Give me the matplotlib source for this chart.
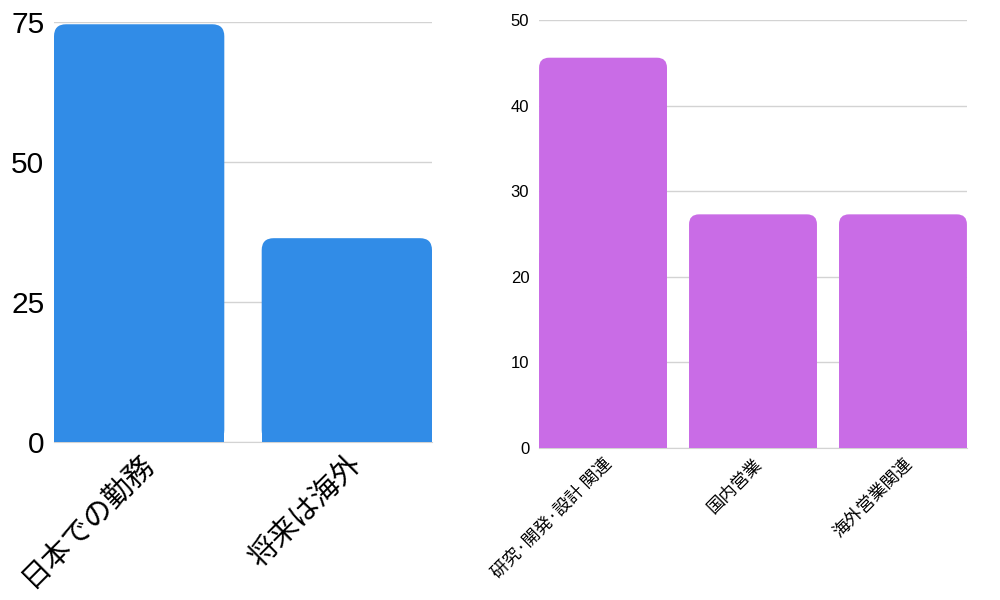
import matplotlib
matplotlib.use("Agg")
import matplotlib.pyplot as plt
from matplotlib.patches import FancyBboxPatch, Rectangle

plt.rcParams['font.family'] = ['Liberation Sans', 'Noto Sans CJK JP', 'DejaVu Sans']

# data
left_cats = ['日本での勤務', '将来は海外']
left_vals = [74.6, 36.4]
left_ticks = [0, 25, 50, 75]

right_cats = ['研究·開発·設計 関連', '国内営業', '海外営業関連']
right_vals = [45.6, 27.3, 27.3]
right_ticks = [0, 10, 20, 30, 40, 50]

BLUE = '#318ce7'
PURPLE = '#c96ce6'
GRID = '#d3d3d3'
JP = ['Noto Sans CJK JP', 'DejaVu Sans']


def rounded_bars(ax, fig, cats, vals, width, color, radius_px):
    x = range(len(cats))
    bars = ax.bar(x, vals, width=width, color=color, zorder=3)
    fig.canvas.draw()
    # data units per pixel in x and y
    p0 = ax.transData.inverted().transform((0, 0))
    p1 = ax.transData.inverted().transform((1, 1))
    dx = p1[0] - p0[0]
    dy = p1[1] - p0[1]
    aspect = dy / dx
    r = radius_px * dx
    for b in bars:
        bx, by = b.get_x(), b.get_y()
        w, h = b.get_width(), b.get_height()
        b.set_visible(False)
        fb = FancyBboxPatch((bx, by), w, h,
                            boxstyle="round,pad=0,rounding_size=%f" % r,
                            mutation_aspect=aspect,
                            fc=color, ec='none', zorder=3)
        ax.add_patch(fb)
        ax.add_patch(Rectangle((bx, by), w, h / 2, fc=color, ec='none', zorder=3))


def style(ax, ticks, lo, hi, fs):
    ax.set_ylim(lo, hi)
    ax.set_yticks(ticks)
    ax.yaxis.grid(True, color=GRID, lw=1, zorder=0)
    ax.set_axisbelow(True)
    for s in ['left', 'right', 'top']:
        ax.spines[s].set_visible(False)
    ax.spines['bottom'].set_color(GRID)
    ax.tick_params(length=0)
    ax.tick_params(axis='y', labelsize=fs, pad=7)


fig = plt.figure(figsize=(10, 6), dpi=100)

# left chart
ax1 = fig.add_axes([0.054, 0.2633, 0.378, 0.70])
ax1.set_xlim(-0.41, 1.41)
style(ax1, left_ticks, 0, 75, 21.5)
rounded_bars(ax1, fig, left_cats, left_vals, 0.82, BLUE, 12)
ax1.set_xticks(range(len(left_cats)))
ax1.set_xticklabels(left_cats, rotation=45, ha='right', va='top',
                    rotation_mode='anchor', fontsize=21, family=JP)
ax1.tick_params(axis='x', pad=5)

# right chart
ax2 = fig.add_axes([0.539, 0.2533, 0.428, 0.7133])
ax2.set_xlim(-0.427, 2.427)
style(ax2, right_ticks, 0, 50, 12)
rounded_bars(ax2, fig, right_cats, right_vals, 0.853, PURPLE, 10)
ax2.set_xticks(range(len(right_cats)))
ax2.set_xticklabels(right_cats, rotation=45, ha='right', va='top',
                    rotation_mode='anchor', fontsize=12.5, family=JP)
ax2.tick_params(axis='x', pad=5)

fig.savefig('out.png', dpi=100)
